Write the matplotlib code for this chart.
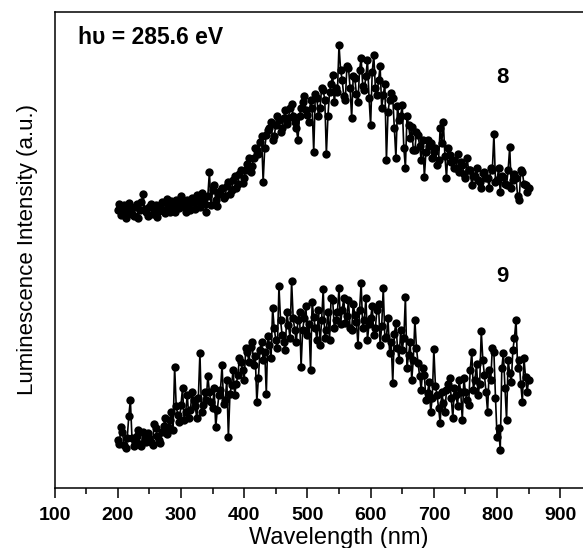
import numpy as np
import matplotlib.pyplot as plt

plt.rcParams['font.family'] = ['Liberation Sans', 'DejaVu Sans']

# readings on a 5 nm grid and on the points in between (2.5 nm offset)
wl_main = np.arange(200, 851, 5)
wl_mid = np.arange(202.5, 850, 5)

# sample 8 (upper curve), a.u.
lum_8 = [278, 273, 283, 276, 280, 272, 284, 278, 294, 276,
         281, 274, 283, 277, 286, 275, 282, 287, 276, 285,
         292, 282, 288, 278, 286, 293, 281, 289, 276, 316,
         298, 288, 294, 300, 292, 306, 298, 312, 304, 318,
         310, 324, 316, 330, 338, 346, 306, 353, 360, 348,
         363, 368, 360, 378, 370, 384, 366, 348, 380, 392,
         373, 388, 336, 390, 380, 398, 334, 396, 413, 400,
         443, 408, 388, 420, 370, 410, 386, 430, 398, 428,
         363, 433, 393, 422, 393, 328, 388, 390, 330, 368,
         383, 320, 363, 361, 338, 353, 328, 311, 348, 345,
         336, 323, 360, 366, 310, 333, 328, 320, 316, 323,
         310, 318, 303, 312, 308, 300, 316, 310, 320, 354,
         308, 296, 311, 303, 341, 308, 310, 288, 316, 303, 300]
lum_8_mid = [284, 276, 270, 285, 274, 281, 270, 286, 279, 272,
             284, 279, 271, 282, 278, 289, 276, 282, 288, 280,
             286, 276, 284, 290, 279, 287, 295, 284, 292, 283,
             303, 282, 297, 290, 302, 294, 308, 300, 314, 305,
             318, 330, 322, 340, 334, 352, 340, 358, 366, 352,
             372, 356, 370, 364, 380, 372, 360, 372, 386, 378,
             366, 380, 394, 372, 400, 388, 372, 404, 386, 396,
             418, 392, 422, 400, 412, 394, 418, 402, 412, 390,
             416, 400, 408, 380, 404, 376, 395, 360, 382, 372,
             340, 372, 350, 338, 356, 342, 348, 336, 342, 330,
             340, 328, 345, 332, 340, 326, 320, 334, 326, 314,
             330, 318, 312, 320, 306, 315, 310, 300, 318, 306,
             320, 312, 304, 318, 300, 314, 292, 318, 304, 296]

# sample 9 (lower curve), a.u.
lum_9 = [48, 61, 43, 50, 88, 42, 52, 44, 56, 46,
         50, 43, 60, 48, 56, 70, 61, 76, 121, 73,
         83, 68, 93, 78, 88, 70, 135, 83, 88, 96,
         80, 61, 93, 123, 88, 51, 103, 93, 113, 126,
         108, 136, 141, 123, 86, 138, 128, 94, 143, 180,
         148, 202, 153, 138, 163, 207, 158, 168, 121, 170,
         153, 118, 171, 148, 143, 199, 158, 148, 188, 168,
         200, 178, 165, 188, 158, 173, 143, 205, 168, 148,
         170, 153, 178, 143, 200, 151, 135, 105, 165, 128,
         138, 191, 133, 108, 168, 125, 98, 113, 95, 76,
         139, 93, 65, 85, 98, 110, 70, 93, 108, 68,
         96, 83, 136, 108, 93, 157, 113, 76, 108, 136,
         51, 38, 135, 68, 115, 138, 168, 128, 86, 111, 108]
lum_9_mid = [44, 56, 40, 72, 50, 46, 58, 42, 49, 55,
             46, 64, 52, 45, 62, 54, 68, 58, 82, 66,
             100, 76, 70, 96, 82, 90, 76, 96, 112, 86,
             100, 78, 98, 84, 108, 94, 118, 104, 130, 118,
             140, 126, 146, 132, 110, 146, 136, 152, 130, 160,
             140, 168, 146, 176, 150, 170, 146, 176, 158, 182,
             164, 186, 160, 178, 168, 150, 176, 190, 160, 176,
             164, 190, 172, 160, 184, 166, 178, 160, 190, 164,
             182, 160, 184, 162, 150, 170, 146, 154, 140, 158,
             150, 120, 146, 128, 140, 112, 120, 88, 106, 90,
             102, 80, 96, 76, 104, 90, 100, 82, 96, 110,
             88, 118, 98, 124, 104, 128, 96, 118, 140, 90,
             60, 120, 100, 128, 106, 150, 120, 104, 130, 96]


def merge(main, mid):
    x = np.concatenate([wl_main, wl_mid])
    y = np.concatenate([main, mid])
    order = np.argsort(x)
    return x[order], y[order]


fig = plt.figure(figsize=(5.83, 5.48), dpi=100)
ax = fig.add_axes([0.0935, 0.1095, 0.976, 0.8686])

for main, mid in ((lum_8, lum_8_mid), (lum_9, lum_9_mid)):
    x, y = merge(main, mid)
    ax.plot(x, y, '-o', color='black', lw=1.2, markersize=6.0,
            markeredgewidth=0)

ax.set_xlim(100, 1000)
ax.set_ylim(0, 476)
ax.set_xticks(np.arange(100, 901, 100))
ax.set_xticks(np.arange(150, 1000, 100), minor=True)
ax.set_yticks([])
ax.tick_params(axis='x', which='major', direction='out', length=7, width=1.1,
               labelsize=14, pad=7)
ax.tick_params(axis='x', which='minor', direction='out', length=4, width=1.1)
for lbl in ax.get_xticklabels():
    lbl.set_fontweight('bold')
for s in ax.spines.values():
    s.set_linewidth(1.1)

ax.set_xlabel('Wavelength (nm)', fontsize=17, labelpad=2)
ax.set_ylabel('Luminescence Intensity (a.u.)', fontsize=16, labelpad=12)

ax.text(137, 451, 'h\u03c5 = 285.6 eV', fontsize=16.5, fontweight='bold',
        va='center', ha='left')
ax.text(808, 411, '8', fontsize=16, fontweight='bold', ha='center', va='center')
ax.text(808, 211, '9', fontsize=16, fontweight='bold', ha='center', va='center')

fig.savefig('out.png', dpi=100)
